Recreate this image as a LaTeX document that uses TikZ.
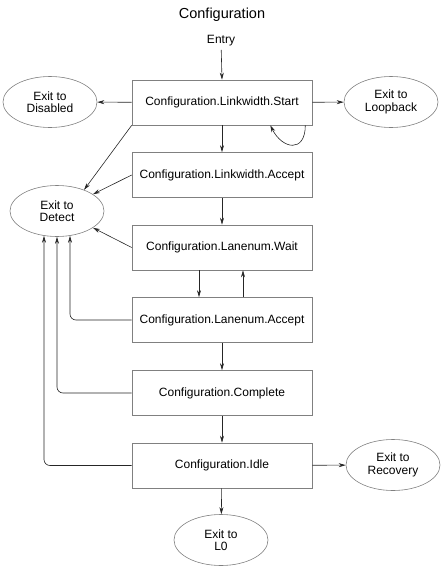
\documentclass[tikz,border=0pt]{standalone}
\usepackage{fontspec}
\setmainfont{Liberation Sans}
\usetikzlibrary{arrows.meta}
\usetikzlibrary{shapes.geometric}

\begin{document}
\begin{tikzpicture}[x=1pt, y=-1pt,
    statebox/.style={draw=black!50, line width=0.6pt, minimum width=180pt,
      minimum height=45pt, font=\fontsize{12}{13}\selectfont},
    exitnode/.style={ellipse, draw=black!50, line width=0.6pt,
      minimum width=94pt, minimum height=51pt, align=center, inner sep=0pt,
      font=\fontsize{12}{12.5}\selectfont},
    trans/.style={draw=black!85, line width=0.6pt,
      -{Stealth[length=7pt, width=4pt]}},
    back/.style={trans, rounded corners=6pt}]
  \useasboundingbox (0,0) rectangle (447,568);
  % title and entry point
  \node[font=\fontsize{14.5}{16}\selectfont] (title) at (222,15)
    {Configuration};
  \node[font=\fontsize{12}{13}\selectfont] (entry) at (221,41) {Entry};
  % ---------- the substates, top to bottom ----------
  \node[statebox] (lwstart) at (222,102.5) {Configuration.Linkwidth.Start};
  \node[statebox] (lwaccept) at (222,175) {Configuration.Linkwidth.Accept};
  \node[statebox] (lnwait) at (222,247.5) {Configuration.Lanenum.Wait};
  \node[statebox] (lnaccept) at (222,320) {Configuration.Lanenum.Accept};
  \node[statebox] (complete) at (222,393) {Configuration.Complete};
  \node[statebox] (idle) at (222,465.5) {Configuration.Idle};
  % ---------- the exits ----------
  \node[exitnode] (disabled) at (50,102) {Exit to\\Disabled};
  \node[exitnode] (loopback) at (391,102) {Exit to\\Loopback};
  \node[exitnode] (detect) at (57,211) {Exit to\\Detect};
  \node[exitnode] (recovery) at (393,465) {Exit to\\Recovery};
  \node[exitnode] (lzero) at (221,540) {Exit to\\L0};
  % ---------- main path ----------
  \draw[trans] (entry) -- (lwstart.north);
  \draw[trans] (lwstart) -- (lwaccept);
  \draw[trans] (lwaccept) -- (lnwait);
  \draw[trans] ([xshift=-23pt]lnwait.south) -- ([xshift=-23pt]lnaccept.north);
  \draw[trans] ([xshift=21pt]lnaccept.north) -- ([xshift=21pt]lnwait.south);
  \draw[trans] (lnaccept) -- (complete);
  \draw[trans] (complete) -- (idle);
  \draw[trans] (idle) -- (lzero);
  % side exits
  \draw[trans] (lwstart) -- (disabled);
  \draw[trans] (lwstart) -- (loopback);
  \draw[trans] (idle) -- (recovery);
  % stay in Linkwidth.Start
  \draw[trans] ([xshift=-7pt]lwstart.south east)
    .. controls +(0,28) and +(12,24) .. ([xshift=-42pt]lwstart.south east);
  % ---------- back to Detect ----------
  \draw[trans] (lwstart.south west) -- (detect.38);
  \draw[trans] (lwaccept.west) -- (detect.25);
  \draw[trans] (lnwait.west) -- (detect.-25);
  \draw[back] (lnaccept.west) -| ([xshift=13pt, yshift=1pt]detect.south);
  \draw[back] (complete.west) -| (detect.south);
  \draw[back] (idle.west) -| ([xshift=-13pt, yshift=1pt]detect.south);
\end{tikzpicture}
\end{document}
